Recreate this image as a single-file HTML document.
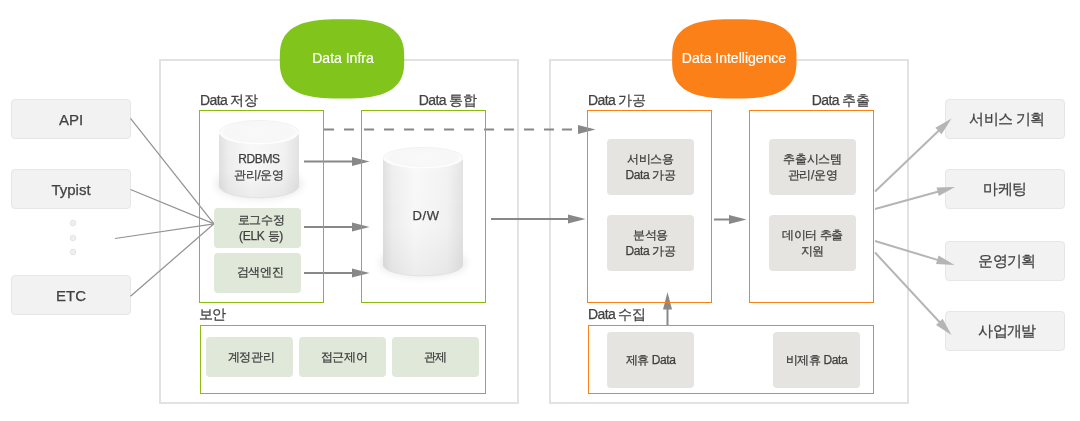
<!DOCTYPE html>
<html><head><meta charset="utf-8">
<style>
html,body{margin:0;padding:0;background:#fff;}
body{width:1080px;height:421px;position:relative;overflow:hidden;-webkit-font-smoothing:antialiased;will-change:transform;font-family:"Liberation Sans",sans-serif;color:#474747;}
.a{position:absolute;box-sizing:border-box;}
.outer{border:2px solid #e2e2e2;}
.gb{border:1px solid #8dba0c;}
.ob{border:1px solid #fb8116;}
.src{background:#f2f2f2;border:1px solid #e6e6e6;border-radius:4px;display:flex;align-items:center;justify-content:center;font-size:15px;color:#424242;letter-spacing:0;-webkit-text-stroke:0.25px #424242;}
.gc{background:#dfe8d9;border-radius:4px;display:flex;align-items:center;justify-content:center;text-align:center;font-size:12px;line-height:16px;color:#3e3e3e;-webkit-text-stroke:0.25px #3e3e3e;letter-spacing:-0.3px;}
.oc{background:#e5e4e0;border-radius:4px;display:flex;align-items:center;justify-content:center;text-align:center;font-size:12px;line-height:16px;color:#3e3e3e;-webkit-text-stroke:0.25px #3e3e3e;letter-spacing:-0.4px;}
.lbl{font-size:14px;line-height:16px;color:#424242;white-space:nowrap;letter-spacing:-0.6px;-webkit-text-stroke:0.25px #424242;}
.cyl{font-size:12px;line-height:16px;color:#3e3e3e;text-align:center;white-space:nowrap;letter-spacing:-0.4px;-webkit-text-stroke:0.25px #3e3e3e;}
svg{position:absolute;left:0;top:0;}
</style></head><body>

<!-- outer containers -->
<div class="a outer" style="left:159px;top:59px;width:360px;height:345px;"></div>
<div class="a outer" style="left:549px;top:59px;width:360px;height:345px;"></div>

<!-- source boxes -->
<div class="a src" style="left:11px;top:99px;width:120px;height:40px;">API</div>
<div class="a src" style="left:11px;top:169px;width:120px;height:40px;">Typist</div>
<div class="a src" style="left:11px;top:275px;width:120px;height:40px;">ETC</div>

<!-- output boxes -->
<div class="a src" style="left:945px;top:99px;width:120px;height:40px;letter-spacing:-0.6px;padding-left:4px;">서비스 기획</div>
<div class="a src" style="left:945px;top:169px;width:120px;height:40px;letter-spacing:-0.6px;">마케팅</div>
<div class="a src" style="left:945px;top:241px;width:120px;height:40px;letter-spacing:-0.6px;padding-left:4px;">운영기획</div>
<div class="a src" style="left:945px;top:311px;width:120px;height:40px;letter-spacing:-0.6px;padding-left:4px;">사업개발</div>

<svg width="1080" height="421" viewBox="0 0 1080 421">
  <defs>
    <linearGradient id="cylg" x1="0" y1="0" x2="1" y2="0">
      <stop offset="0" stop-color="#e0e0e0"/>
      <stop offset="0.12" stop-color="#efefef"/>
      <stop offset="0.4" stop-color="#f9f9f9"/>
      <stop offset="0.8" stop-color="#f3f3f3"/>
      <stop offset="1" stop-color="#e3e3e3"/>
    </linearGradient>
    <linearGradient id="cylv" x1="0" y1="0" x2="0" y2="1">
      <stop offset="0" stop-color="#000" stop-opacity="0"/>
      <stop offset="0.6" stop-color="#000" stop-opacity="0.01"/>
      <stop offset="1" stop-color="#000" stop-opacity="0.05"/>
    </linearGradient>
    <radialGradient id="topg" cx="0.5" cy="0.5" r="0.5">
      <stop offset="0" stop-color="#f9f9f9"/>
      <stop offset="0.85" stop-color="#f7f7f7"/>
      <stop offset="1" stop-color="#fdfdfd"/>
    </radialGradient>
    <filter id="blur" x="-50%" y="-50%" width="200%" height="200%"><feGaussianBlur stdDeviation="5"/></filter>
    
  </defs>

  <!-- dots -->
  <circle cx="73" cy="223" r="2.8" fill="#efefef" stroke="#e2e2e2" stroke-width="0.9"/>
  <circle cx="73" cy="238" r="2.8" fill="#efefef" stroke="#e2e2e2" stroke-width="0.9"/>
  <circle cx="73" cy="252" r="2.8" fill="#efefef" stroke="#e2e2e2" stroke-width="0.9"/>

  <!-- input lines -->
  <g stroke="#939393" stroke-width="1.25" fill="none">
    <line x1="130.5" y1="118.3" x2="214" y2="223.8"/>
    <line x1="130.5" y1="189.5" x2="214" y2="223.8"/>
    <line x1="115" y1="238.5" x2="214" y2="223.8"/>
    <line x1="130.5" y1="296.3" x2="214" y2="223.8"/>
  </g>

  <!-- cylinders -->
  <g>
    <ellipse cx="259" cy="184" rx="43" ry="14" fill="#000" opacity="0.10" filter="url(#blur)"/>
    <path d="M219,132 L219,186 A40,12 0 0 0 299,186 L299,132 Z" fill="url(#cylg)"/>
    <path d="M219,132 L219,186 A40,12 0 0 0 299,186 L299,132 Z" fill="url(#cylv)"/>
    <path d="M219.3,186 A39.7,11.8 0 0 0 298.7,186" fill="none" stroke="#e0e0e0" stroke-width="0.8"/>
    <ellipse cx="259" cy="132" rx="40" ry="12" fill="url(#topg)"/>
    <path d="M219.5,132 A39.5,11.5 0 0 1 298.5,132" fill="none" stroke="#ececec" stroke-width="0.7"/>
    <path d="M219.5,132.3 A39.5,11.5 0 0 0 298.5,132.3" fill="none" stroke="#ffffff" stroke-width="1"/>
  </g>
  <g>
    <ellipse cx="423" cy="263" rx="43" ry="13" fill="#000" opacity="0.10" filter="url(#blur)"/>
    <path d="M383,157.5 L383,265 A40,11 0 0 0 463,265 L463,157.5 Z" fill="url(#cylg)"/>
    <path d="M383,157.5 L383,265 A40,11 0 0 0 463,265 L463,157.5 Z" fill="url(#cylv)"/>
    <path d="M383.3,265 A39.7,10.8 0 0 0 462.7,265" fill="none" stroke="#e0e0e0" stroke-width="0.8"/>
    <ellipse cx="423" cy="157.5" rx="40" ry="10.5" fill="url(#topg)"/>
    <path d="M383.5,157.5 A39.5,10 0 0 1 462.5,157.5" fill="none" stroke="#ececec" stroke-width="0.7"/>
    <path d="M383.5,157.8 A39.5,10 0 0 0 462.5,157.8" fill="none" stroke="#ffffff" stroke-width="1"/>
  </g>

  <!-- dark arrows -->
  <g stroke="#888" stroke-width="2" fill="none">
    <line x1="304" y1="161.5" x2="353" y2="161.5"/>
    <line x1="304" y1="227" x2="353" y2="227"/>
    <line x1="304" y1="273" x2="353" y2="273"/>
    <line x1="491" y1="219" x2="569" y2="219"/>
    <line x1="714" y1="219.5" x2="730" y2="219.5"/>
    <line x1="667.5" y1="325" x2="667.5" y2="309"/>
    <line x1="324" y1="129.5" x2="554" y2="129.5" stroke-dasharray="10 10"/>
    <line x1="562" y1="129.5" x2="572" y2="129.5"/>
  </g>
  <g fill="#888">
    <polygon points="352,157 369.5,161.5 352,166"/>
    <polygon points="352,222.5 369.5,227 352,231.5"/>
    <polygon points="352,268.5 369.5,273 352,277.5"/>
    <polygon points="568,214.5 585.5,219 568,223.5"/>
    <polygon points="729,215 746.5,219.5 729,224"/>
    <polygon points="578,125 595.5,129.5 578,134"/>
    <polygon points="663,309.5 667.5,292 672,309.5"/>
  </g>

  <!-- light output arrows -->
  <g stroke="#b5b5b5" stroke-width="2" fill="none">
    <line x1="875" y1="191.5" x2="939.2" y2="130.2"/>
    <line x1="875" y1="209" x2="938.6" y2="191.5"/>
    <line x1="875" y1="241" x2="938.2" y2="260.1"/>
    <line x1="875" y1="252.5" x2="939.9" y2="322.5"/>
  </g>
  <g fill="#b5b5b5">
    <polygon points="941.6,134.2 951.5,118.5 935.4,127.7"/>
    <polygon points="938.8,196.1 955.0,187.0 936.5,187.4"/>
    <polygon points="936.0,264.1 954.5,265.0 938.6,255.5"/>
    <polygon points="936.0,324.9 951.5,335.0 942.6,318.7"/>
  </g>

  <!-- blobs -->
  <path d="M62.20,0.00 L62.11,5.84 L61.83,9.49 L61.36,12.58 L60.71,15.34 L59.86,17.86 L58.84,20.18 L57.63,22.34 L56.23,24.35 L54.64,26.22 L52.87,27.95 L50.92,29.56 L48.77,31.05 L46.44,32.42 L43.91,33.66 L41.18,34.79 L38.24,35.80 L35.09,36.69 L31.70,37.46 L28.05,38.11 L24.09,38.65 L19.76,39.06 L14.90,39.36 L9.18,39.54 L0.00,39.60 L-9.18,39.54 L-14.90,39.36 L-19.76,39.06 L-24.09,38.65 L-28.05,38.11 L-31.70,37.46 L-35.09,36.69 L-38.24,35.80 L-41.18,34.79 L-43.91,33.66 L-46.44,32.42 L-48.77,31.05 L-50.92,29.56 L-52.87,27.95 L-54.64,26.22 L-56.23,24.35 L-57.63,22.34 L-58.84,20.18 L-59.86,17.86 L-60.71,15.34 L-61.36,12.58 L-61.83,9.49 L-62.11,5.84 L-62.20,0.00 L-62.11,-5.84 L-61.83,-9.49 L-61.36,-12.58 L-60.71,-15.34 L-59.86,-17.86 L-58.84,-20.18 L-57.63,-22.34 L-56.23,-24.35 L-54.64,-26.22 L-52.87,-27.95 L-50.92,-29.56 L-48.77,-31.05 L-46.44,-32.42 L-43.91,-33.66 L-41.18,-34.79 L-38.24,-35.80 L-35.09,-36.69 L-31.70,-37.46 L-28.05,-38.11 L-24.09,-38.65 L-19.76,-39.06 L-14.90,-39.36 L-9.18,-39.54 L-0.00,-39.60 L9.18,-39.54 L14.90,-39.36 L19.76,-39.06 L24.09,-38.65 L28.05,-38.11 L31.70,-37.46 L35.09,-36.69 L38.24,-35.80 L41.18,-34.79 L43.91,-33.66 L46.44,-32.42 L48.77,-31.05 L50.92,-29.56 L52.87,-27.95 L54.64,-26.22 L56.23,-24.35 L57.63,-22.34 L58.84,-20.18 L59.86,-17.86 L60.71,-15.34 L61.36,-12.58 L61.83,-9.49 L62.11,-5.84Z" transform="translate(342,58.9)" fill="#80c41c"/>
  <path d="M62.20,0.00 L62.11,5.84 L61.83,9.49 L61.36,12.58 L60.71,15.34 L59.86,17.86 L58.84,20.18 L57.63,22.34 L56.23,24.35 L54.64,26.22 L52.87,27.95 L50.92,29.56 L48.77,31.05 L46.44,32.42 L43.91,33.66 L41.18,34.79 L38.24,35.80 L35.09,36.69 L31.70,37.46 L28.05,38.11 L24.09,38.65 L19.76,39.06 L14.90,39.36 L9.18,39.54 L0.00,39.60 L-9.18,39.54 L-14.90,39.36 L-19.76,39.06 L-24.09,38.65 L-28.05,38.11 L-31.70,37.46 L-35.09,36.69 L-38.24,35.80 L-41.18,34.79 L-43.91,33.66 L-46.44,32.42 L-48.77,31.05 L-50.92,29.56 L-52.87,27.95 L-54.64,26.22 L-56.23,24.35 L-57.63,22.34 L-58.84,20.18 L-59.86,17.86 L-60.71,15.34 L-61.36,12.58 L-61.83,9.49 L-62.11,5.84 L-62.20,0.00 L-62.11,-5.84 L-61.83,-9.49 L-61.36,-12.58 L-60.71,-15.34 L-59.86,-17.86 L-58.84,-20.18 L-57.63,-22.34 L-56.23,-24.35 L-54.64,-26.22 L-52.87,-27.95 L-50.92,-29.56 L-48.77,-31.05 L-46.44,-32.42 L-43.91,-33.66 L-41.18,-34.79 L-38.24,-35.80 L-35.09,-36.69 L-31.70,-37.46 L-28.05,-38.11 L-24.09,-38.65 L-19.76,-39.06 L-14.90,-39.36 L-9.18,-39.54 L-0.00,-39.60 L9.18,-39.54 L14.90,-39.36 L19.76,-39.06 L24.09,-38.65 L28.05,-38.11 L31.70,-37.46 L35.09,-36.69 L38.24,-35.80 L41.18,-34.79 L43.91,-33.66 L46.44,-32.42 L48.77,-31.05 L50.92,-29.56 L52.87,-27.95 L54.64,-26.22 L56.23,-24.35 L57.63,-22.34 L58.84,-20.18 L59.86,-17.86 L60.71,-15.34 L61.36,-12.58 L61.83,-9.49 L62.11,-5.84Z" transform="translate(734.3,58.9)" fill="#fb8017"/>
</svg>

<!-- group boxes -->
<div class="a gb" style="left:199px;top:110px;width:125px;height:193px;"></div>
<div class="a gb" style="left:361px;top:110px;width:125px;height:193px;"></div>
<div class="a gb" style="left:200px;top:325px;width:286px;height:69px;"></div>
<div class="a ob" style="left:587px;top:110px;width:125px;height:193px;"></div>
<div class="a ob" style="left:749px;top:110px;width:125px;height:193px;"></div>
<div class="a ob" style="left:588px;top:325px;width:286px;height:69px;"></div>

<!-- labels -->
<div class="a lbl" style="left:200px;top:92px;">Data 저장</div>
<div class="a lbl" style="left:420px;top:92px;width:56px;text-align:right;direction:rtl;"><span style="direction:ltr;unicode-bidi:embed">Data 통합</span></div>
<div class="a lbl" style="left:588px;top:92px;">Data 가공</div>
<div class="a lbl" style="left:800px;top:92px;width:69px;text-align:right;">Data 추출</div>
<div class="a lbl" style="left:199px;top:306px;">보안</div>
<div class="a lbl" style="left:588px;top:306px;">Data 수집</div>

<!-- cylinder text -->
<div class="a cyl" style="left:219px;top:151px;width:80px;">RDBMS<br>관리/운영</div>
<div class="a cyl" style="left:386px;top:208px;width:80px;font-size:13px;letter-spacing:0.6px;">D/W</div>

<!-- green cells -->
<div class="a gc" style="left:214px;top:208px;width:87px;height:40px;padding-left:7px;">로그수정<br>(ELK 등)</div>
<div class="a gc" style="left:214px;top:253px;width:87px;height:40px;padding-left:5px;padding-bottom:2px;">검색엔진</div>
<div class="a gc" style="left:206px;top:337px;width:87px;height:40px;padding-left:3px;">계정관리</div>
<div class="a gc" style="left:299px;top:337px;width:87px;height:40px;padding-left:3px;">접근제어</div>
<div class="a gc" style="left:392px;top:337px;width:87px;height:40px;">관제</div>

<!-- orange cells -->
<div class="a oc" style="left:607px;top:139px;width:87px;height:56px;">서비스용<br>Data 가공</div>
<div class="a oc" style="left:607px;top:215px;width:87px;height:56px;">분석용<br>Data 가공</div>
<div class="a oc" style="left:769px;top:139px;width:87px;height:56px;">추출시스템<br>관리/운영</div>
<div class="a oc" style="left:769px;top:215px;width:87px;height:56px;">데이터 추출<br>지원</div>
<div class="a oc" style="left:607px;top:332px;width:87px;height:56px;">제휴 Data</div>
<div class="a oc" style="left:773px;top:332px;width:87px;height:56px;">비제휴 Data</div>

<!-- blob text -->
<div class="a" style="left:281px;top:50px;width:124px;text-align:center;font-size:14px;line-height:16px;color:#fff;letter-spacing:0;-webkit-text-stroke:0.2px #fff;">Data Infra</div>
<div class="a" style="left:672px;top:50px;width:124px;text-align:center;font-size:14px;line-height:16px;color:#fff;-webkit-text-stroke:0.2px #fff;">Data Intelligence</div>

</body></html>
